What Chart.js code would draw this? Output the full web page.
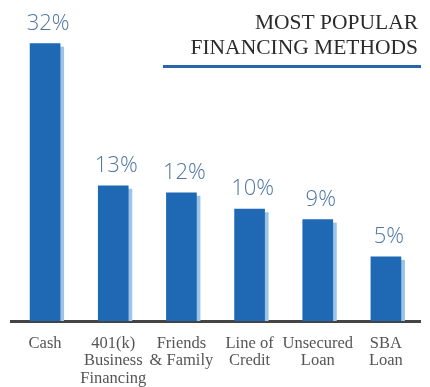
<!DOCTYPE html>
<html>
<head>
<meta charset="utf-8">
<script src="https://cdn.jsdelivr.net/npm/chart.js@4/dist/chart.umd.min.js"></script>
<style>
  html, body { margin: 0; padding: 0; background: #ffffff; }
  #wrap { width: 430px; height: 387px; position: relative; }
</style>
</head>
<body>
<div id="wrap"><canvas id="c" width="430" height="387"></canvas></div>
<script>
// Categories (multi-line tick labels)
const categories = [
  ["Cash"],
  ["401(k)", "Business", "Financing"],
  ["Friends", "& Family"],
  ["Line of", "Credit"],
  ["Unsecured", "Loan"],
  ["SBA", "Loan"]
];
// Percentages printed above the bars
const percentages = [32, 13, 12, 10, 9, 5];
// Bar heights as drawn in the picture (the original is not to scale), in the same units as Cash = 32
const barHeights = [32, 15.6, 14.8, 12.9, 11.7, 7.4];
const titleLines = ["MOST POPULAR", "FINANCING METHODS"];

const shadowPlugin = {
  id: 'shadow',
  beforeDatasetsDraw(chart) {
    const ctx = chart.ctx;
    const meta = chart.getDatasetMeta(0);
    ctx.save();
    ctx.fillStyle = '#9cc3e8';
    meta.data.forEach(bar => {
      const half = bar.width / 2;
      ctx.fillRect(bar.x - half + 4, bar.y + 3, bar.width, bar.base - bar.y - 3);
    });
    ctx.restore();
  }
};

const labelPlugin = {
  id: 'valueLabels',
  afterDatasetsDraw(chart) {
    const ctx = chart.ctx;
    const meta = chart.getDatasetMeta(0);
    ctx.save();
    ctx.font = '300 22px "Open Sans", "Noto Sans", sans-serif';
    ctx.fillStyle = '#5076a3';
    ctx.textAlign = 'center';
    ctx.textBaseline = 'alphabetic';
    meta.data.forEach((bar, i) => {
      ctx.fillText(percentages[i] + '%', bar.x + 3, bar.y - 14);
    });
    ctx.restore();
  }
};

const titlePlugin = {
  id: 'sideTitle',
  afterDraw(chart) {
    const ctx = chart.ctx;
    ctx.save();
    ctx.font = '21.5px "Liberation Serif", "Times New Roman", serif';
    ctx.fillStyle = '#2b2b2b';
    ctx.textAlign = 'right';
    ctx.textBaseline = 'alphabetic';
    ctx.fillText(titleLines[0], 418, 29);
    ctx.fillText(titleLines[1], 418, 54);
    ctx.fillStyle = '#2a66a8';
    ctx.fillRect(163, 65, 258, 3);
    ctx.restore();
  }
};

new Chart(document.getElementById('c'), {
  type: 'bar',
  data: {
    labels: categories,
    datasets: [{
      data: barHeights,
      backgroundColor: '#1f69b4',
      barThickness: 30,
      borderWidth: 0
    }]
  },
  options: {
    responsive: false,
    animation: false,
    devicePixelRatio: 1,
    layout: { padding: { top: 9, left: 11, right: 10, bottom: 0 } },
    plugins: { legend: { display: false }, tooltip: { enabled: false }, title: { display: false } },
    scales: {
      y: { display: false, min: 0, max: 36 },
      x: {
        grid: { display: false, drawTicks: false },
        border: { display: true, color: '#444444', width: 3 },
        ticks: {
          color: '#555555',
          font: { family: '"Liberation Serif", "Times New Roman", serif', size: 16.5, lineHeight: 1.05 },
          padding: 14,
          maxRotation: 0,
          autoSkip: false
        },
        afterFit(scale) { scale.height = 66; }
      }
    }
  },
  plugins: [shadowPlugin, labelPlugin, titlePlugin]
});
</script>
</body>
</html>
